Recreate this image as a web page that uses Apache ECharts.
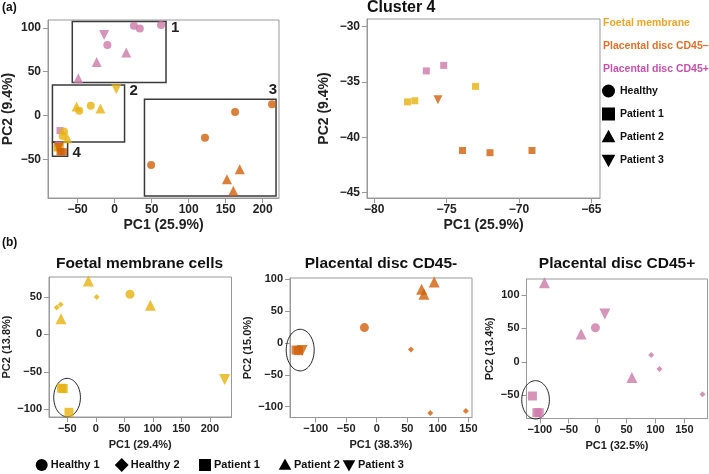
<!DOCTYPE html>
<html><head><meta charset="utf-8">
<script src="https://cdn.jsdelivr.net/npm/echarts@6/dist/echarts.min.js"></script>
<style>html,body{margin:0;padding:0;background:#fff}#c{width:709px;height:474px}</style>
</head><body><div id="c"></div>
<script>
// ---------------- data ----------------
const groupNames = ['Foetal membrane', 'Placental disc CD45–', 'Placental disc CD45+'];
const shapeLegendA = ['Healthy', 'Patient 1', 'Patient 2', 'Patient 3'];
const shapeLegendB = ['Healthy 1', 'Healthy 2', 'Patient 1', 'Patient 2', 'Patient 3'];
const panelTitles = ['Cluster 4', 'Foetal membrane cells', 'Placental disc CD45-', 'Placental disc CD45+'];
const xNames = ['PC1 (25.9%)', 'PC1 (25.9%)', 'PC1 (29.4%)', 'PC1 (38.3%)', 'PC1 (32.5%)'];
const yNames = ['PC2 (9.4%)', 'PC2 (9.4%)', 'PC2 (13.8%)', 'PC2 (15.0%)', 'PC2 (13.4%)'];
const xTicks = [[-50, 0, 50, 100, 150, 200], [-80, -75, -70, -65], [-50, 0, 50, 100, 150, 200], [-100, -50, 0, 50, 100, 150], [-100, -50, 0, 50, 100, 150]];
const yTicks = [[-50, 0, 50, 100], [-45, -40, -35, -30], [-100, -50, 0, 50], [-100, -50, 0, 50, 100], [-50, 0, 50, 100]];
const xRanges = [[-90, 222], [-80.5, -64.4], [-82, 238], [-142, 156], [-123, 190]];
const yRanges = [[-94, 109], [-45.5, -29.3], [-110.6, 77], [-117, 102], [-85, 124]];

// points: [PC1, PC2, group (F foetal, N CD45-, P CD45+), shape (c circle, d diamond, s square, t triangle, v triangle down)]
const pointsOverview = [
  [26, 102.4, 'P', 'c'], [34, 99.3, 'P', 'c'], [62.7, 103.2, 'P', 'c'], [-9.8, 80.4, 'P', 'c'],
  [-14.2, 91.8, 'P', 'v'],
  [15.7, 71.9, 'P', 't'], [-24.2, 61, 'P', 't'], [-49.1, 42.7, 'P', 't'],
  [-73.8, -17.1, 'P', 's'], [-76.4, -34.0, 'P', 's'], [-75.2, -33.5, 'P', 's'],
  [2.3, 30.1, 'F', 'v'],
  [-51.4, 10.3, 'F', 't'], [-19.2, 8, 'F', 't'], [-63.9, -25.8, 'F', 't'],
  [-47.8, 5.4, 'F', 'c'], [-32.2, 11.1, 'F', 'c'], [-68.5, -18.3, 'F', 'c'], [-70.2, -23.2, 'F', 'c'],
  [-77.7, -36.8, 'F', 's'], [-77.2, -36.7, 'F', 's'], [-73.0, -35.4, 'F', 's'],
  [49.3, -56.5, 'N', 'c'], [122, -25.3, 'N', 'c'], [162.7, 4, 'N', 'c'], [212.6, 13, 'N', 'c'],
  [151.7, -72.6, 'N', 't'], [160.3, -85.6, 'N', 't'], [169, -61.2, 'N', 't'],
  [-75.6, -36.6, 'N', 'v'],
  [-73.9, -41.2, 'N', 's'], [-72.0, -41.4, 'N', 's'], [-69.1, -41.2, 'N', 's']
];
const pointsCluster4 = [
  [-76.4, -34.0, 'P', 's'], [-75.2, -33.5, 'P', 's'],
  [-77.7, -36.8, 'F', 's'], [-77.2, -36.7, 'F', 's'], [-73.0, -35.4, 'F', 's'],
  [-75.6, -36.6, 'N', 'v'],
  [-73.9, -41.2, 'N', 's'], [-72.0, -41.4, 'N', 's'], [-69.1, -41.2, 'N', 's']
];
const pointsFoetal = [
  [-13, 71.7, 'F', 't'], [95.8, 39.2, 'F', 't'], [-61, 20.9, 'F', 't'],
  [1.5, 50.3, 'F', 'd'], [-61.6, 40.1, 'F', 'd'], [-68.5, 36.1, 'F', 'd'],
  [60, 53.9, 'F', 'c'],
  [226, -60.2, 'F', 'v'],
  [-60, -72, 'F', 's'], [-57, -72.5, 'F', 's'], [-47, -104.3, 'F', 's']
];
const pointsCD45neg = [
  [94.1, 95.8, 'N', 't'], [73.5, 84.3, 'N', 't'], [77.3, 76.5, 'N', 't'],
  [-20.2, 24.2, 'N', 'c'],
  [56, -10.4, 'N', 'd'], [87.6, -110, 'N', 'd'], [146, -106.7, 'N', 'd'],
  [-132, -11, 'N', 's'], [-128, -12, 'N', 's'],
  [-122, -12, 'N', 'v']
];
const pointsCD45pos = [
  [-92, 118.3, 'P', 't'], [-28.5, 41.5, 'P', 't'], [59.2, -23.4, 'P', 't'],
  [12.5, 71.4, 'P', 'v'],
  [-3.8, 50.9, 'P', 'c'],
  [92.6, 10, 'P', 'd'], [107, -10.9, 'P', 'd'], [181.3, -48.8, 'P', 'd'],
  [-112.8, -51.3, 'P', 's'], [-105, -76.3, 'P', 's'], [-101, -76.3, 'P', 's']
];
// cluster boxes on overview: [x1, y1, x2, y2]
const clusterBoxes = [[-57.2, 37.7, 69.4, 107.3], [-84, -30, 13.4, 35], [40.3, -91.7, 218, 18.7], [-84, -46.3, -63.5, -30.4]];
const clusterLabels = ['1', '2', '3', '4'];
// ellipses (panels b): [cx, cy, rx, ry]
const ellipseFoetal = [-50.3, -84.5, 23.4, 25.7];
const ellipseCD45neg = [-125.3, -11.2, 22.9, 32.7];
const ellipseCD45pos = [-107.3, -57, 23.9, 28.7];

// ---------------- styling ----------------
const FONT = '"Liberation Sans", Arial, sans-serif';
const COLORS = { F: '#E6B10E', N: '#D1600A', P: '#CC79A7' };
const groupTextColors = ['#F0A52A', '#E0702A', '#C850A8'];
const TRI_DOWN = 'path://M0,0L10,0L5,9Z';
const SYMBOLS = { c: 'circle', d: 'diamond', s: 'rect', t: 'triangle', v: TRI_DOWN };
const grids = [
  { left: 46, top: 20, width: 233, height: 178 },
  { left: 367, top: 19, width: 233, height: 179 },
  { left: 47.5, top: 277, width: 184, height: 140 },
  { left: 290, top: 278, width: 182, height: 139.5 },
  { left: 526.5, top: 279, width: 181, height: 139.5 }
];
const sizes = [
  { c: 8, d: 7, s: 7, t: 10, v: 10 },
  { c: 8, d: 7, s: 7, t: 10, v: 9 },
  { c: 9, d: 6, s: 9, t: 11, v: 11 },
  { c: 9, d: 6, s: 9, t: 11, v: 11 },
  { c: 9, d: 6, s: 9, t: 11, v: 11 }
];
const isTop = p => p < 2;
const fmt = v => (v < 0 ? '−' + Math.abs(v) : String(v));

const xAxis = [], yAxis = [], series = [];
grids.forEach((g, p) => {
  const fs = isTop(p) ? 12 : 11;
  const nfs = isTop(p) ? 14 : 11;
  xAxis.push({
    gridIndex: p, type: 'value', min: xRanges[p][0], max: xRanges[p][1],
    name: xNames[p], nameLocation: 'middle', nameGap: isTop(p) ? 20 : 22,
    nameTextStyle: { fontFamily: FONT, fontWeight: 'bold', fontSize: nfs, color: '#222' },
    axisLine: { show: true, onZero: false, lineStyle: { color: '#999' } },
    axisTick: { show: true, customValues: xTicks[p], length: 5, lineStyle: { color: '#999' } },
    axisLabel: { customValues: xTicks[p], formatter: fmt, fontFamily: FONT, fontWeight: 'bold', fontSize: fs, color: '#222', margin: 6 },
    splitLine: { show: false }
  });
  yAxis.push({
    gridIndex: p, type: 'value', min: yRanges[p][0], max: yRanges[p][1],
    name: yNames[p], nameLocation: 'middle', nameGap: [33, 36, 37, 37, 31][p],
    nameTextStyle: { fontFamily: FONT, fontWeight: 'bold', fontSize: nfs, color: '#222' },
    axisLine: { show: true, onZero: false, lineStyle: { color: '#999' } },
    axisTick: { show: true, customValues: yTicks[p], length: 5, lineStyle: { color: '#999' } },
    axisLabel: { customValues: yTicks[p], formatter: fmt, fontFamily: FONT, fontWeight: 'bold', fontSize: fs, color: '#222', margin: 7 },
    splitLine: { show: false }
  });
});

const panelPoints = [pointsOverview, pointsCluster4, pointsFoetal, pointsCD45neg, pointsCD45pos];
panelPoints.forEach((pts, p) => {
  ['s', 'c', 'd', 't', 'v'].forEach(sh => {
    const data = pts.filter(r => r[3] === sh).map(r => ({ value: [r[0], r[1]], itemStyle: { color: COLORS[r[2]] } }));
    if (!data.length) return;
    series.push({
      type: 'scatter', xAxisIndex: p, yAxisIndex: p, symbol: SYMBOLS[sh],
      symbolSize: sizes[p][sh], data, silent: true, animation: false
    });
  });
});

// cluster boxes
const labelPlace = ['rt', 'rt', 'tc', 'rb'];
series.push({
  type: 'custom', xAxisIndex: 0, yAxisIndex: 0, animation: false, silent: true,
  data: clusterBoxes,
  renderItem(params, api) {
    const i = params.dataIndex;
    const a = api.coord([api.value(0), api.value(3)]);
    const b = api.coord([api.value(2), api.value(1)]);
    let tx, ty, align = 'left';
    if (labelPlace[i] === 'rt') { tx = b[0] + 5; ty = a[1] + 6; }
    else if (labelPlace[i] === 'tc') { tx = b[0] - 3; ty = a[1] - 9; align = 'center'; }
    else { tx = b[0] + 5; ty = b[1] - 3; }
    return {
      type: 'group', children: [
        { type: 'rect', shape: { x: a[0], y: a[1], width: b[0] - a[0], height: b[1] - a[1] }, style: { fill: 'none', stroke: '#3a3a3a', lineWidth: 1.5 } },
        { type: 'text', style: { text: clusterLabels[i], x: tx, y: ty, align, verticalAlign: 'middle', font: 'bold 15px ' + FONT, fill: '#222' } }
      ]
    };
  }
});

// ellipses
[ellipseFoetal, ellipseCD45neg, ellipseCD45pos].forEach((e, k) => {
  series.push({
    type: 'custom', xAxisIndex: k + 2, yAxisIndex: k + 2, animation: false, silent: true,
    data: [e],
    renderItem(params, api) {
      const c = api.coord([api.value(0), api.value(1)]);
      const s = api.size([api.value(2), api.value(3)]);
      const pts = [];
      for (let t = 0; t < 72; t++) {
        const ang = t / 72 * Math.PI * 2;
        pts.push([c[0] + s[0] * Math.cos(ang), c[1] + s[1] * Math.sin(ang)]);
      }
      return { type: 'polygon', shape: { points: pts }, style: { fill: 'none', stroke: '#222', lineWidth: 1 } };
    }
  });
});

// titles and legends (graphic text)
const graphic = [];
const txt = (text, x, y, size, opts = {}) => graphic.push({
  type: 'text', x, y, silent: true,
  style: Object.assign({ text, font: 'bold ' + size + 'px ' + FONT, fill: '#111', align: 'left', verticalAlign: 'middle' }, opts)
});
txt('(a)', 2, 8, 12);
txt('(b)', 2, 243, 12);
txt(panelTitles[0], 367, 8, 16);
txt(panelTitles[1], 139.5, 264, 15.5, { align: 'center' });
txt(panelTitles[2], 381, 264, 15.5, { align: 'center' });
txt(panelTitles[3], 617, 264, 15.5, { align: 'center' });
groupNames.forEach((n, i) => txt(n, 603, [23, 46, 69][i], 10.5, { fill: groupTextColors[i] }));

const shapeGraphic = (sh, cx, cy, r) => {
  const st = { fill: '#000' };
  if (sh === 'c') return { type: 'circle', shape: { cx, cy, r }, style: st, silent: true };
  if (sh === 's') return { type: 'rect', shape: { x: cx - r, y: cy - r, width: 2 * r, height: 2 * r }, style: st, silent: true };
  if (sh === 't') return { type: 'polygon', shape: { points: [[cx, cy - r * 1.1], [cx + r * 1.05, cy + r * 0.8], [cx - r * 1.05, cy + r * 0.8]] }, style: st, silent: true };
  if (sh === 'v') return { type: 'polygon', shape: { points: [[cx, cy + r * 1.1], [cx + r * 1.05, cy - r * 0.8], [cx - r * 1.05, cy - r * 0.8]] }, style: st, silent: true };
  return { type: 'polygon', shape: { points: [[cx, cy - r * 1.15], [cx + r * 1.15, cy], [cx, cy + r * 1.15], [cx - r * 1.15, cy]] }, style: st, silent: true };
};
const shapesA = ['c', 's', 't', 'v'];
shapeLegendA.forEach((n, i) => {
  const y = [91, 114, 137, 160][i];
  graphic.push(shapeGraphic(shapesA[i], 608.5, y, 6.5));
  txt(n, 620, y, 10.5);
});
const shapesB = ['c', 'd', 's', 't', 'v'];
const legBX = [41.7, 121.7, 205, 285, 349];
shapeLegendB.forEach((n, i) => {
  graphic.push(shapeGraphic(shapesB[i], legBX[i], 465, 6));
  txt(n, legBX[i] + 9, 465, 11);
});

const chart = echarts.init(document.getElementById('c'), null, { renderer: 'canvas' });
chart.setOption({
  animation: false,
  backgroundColor: '#fff',
  grid: grids.map(g => Object.assign({ show: true, borderColor: '#999', borderWidth: 1, backgroundColor: 'transparent' }, g)),
  xAxis, yAxis, series, graphic
});
</script>
</body></html>
